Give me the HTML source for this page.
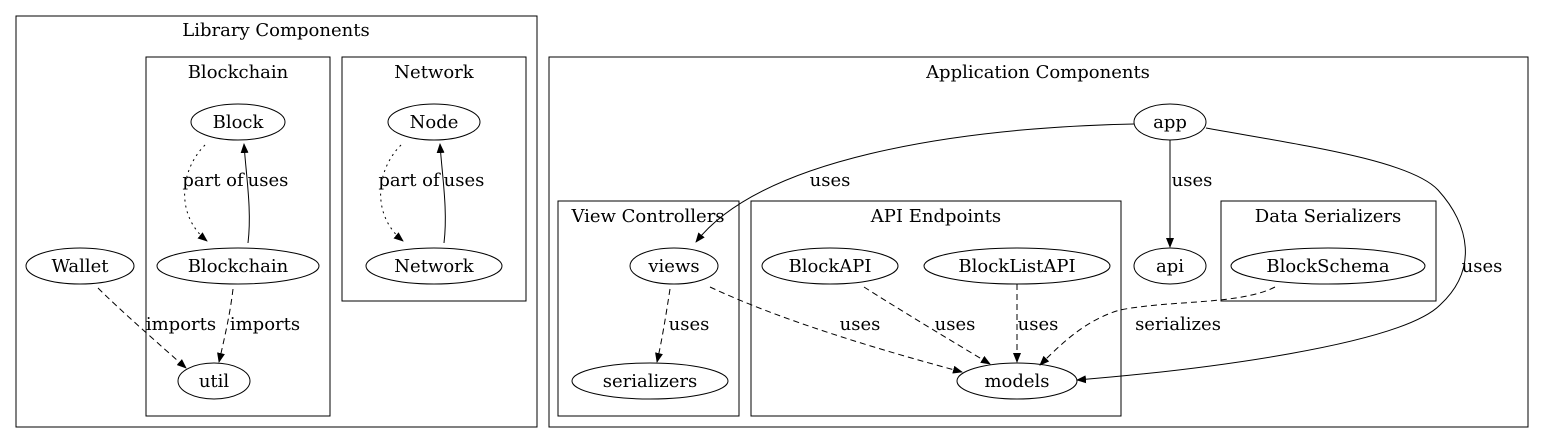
<!DOCTYPE html>
<html><head><meta charset="utf-8"><style>html,body{margin:0;padding:0;background:#fff}svg{display:block}text{font-family:"DejaVu Serif","Liberation Serif",serif;font-size:18px;fill:#000}</style></head><body>
<svg width="1544" height="444" viewBox="0 0 1544 444" xmlns="http://www.w3.org/2000/svg">
<defs><marker id="a" markerWidth="10" markerHeight="8" refX="9" refY="4" orient="auto" markerUnits="userSpaceOnUse"><path d="M0,0 L10,4 L0,8 Z" fill="#000"/></marker></defs>
<g fill="none" stroke="#000" stroke-width="1">
<rect x="16" y="16" width="521" height="411"/>
<rect x="146" y="57" width="184" height="359"/>
<rect x="342" y="57" width="184" height="244"/>
<rect x="549" y="57" width="979" height="370"/>
<rect x="558" y="201" width="181" height="215"/>
<rect x="751" y="201" width="370" height="215"/>
<rect x="1221" y="201" width="215" height="100"/>
<ellipse cx="238" cy="122" rx="47" ry="18"/>
<ellipse cx="238" cy="266" rx="81" ry="18"/>
<ellipse cx="214" cy="381" rx="36" ry="18"/>
<ellipse cx="80" cy="266" rx="54" ry="18"/>
<ellipse cx="434" cy="122" rx="46" ry="18"/>
<ellipse cx="434" cy="266" rx="68" ry="18"/>
<ellipse cx="1170" cy="122" rx="36" ry="18"/>
<ellipse cx="1170" cy="266" rx="36" ry="18"/>
<ellipse cx="674" cy="266" rx="44" ry="18"/>
<ellipse cx="650" cy="381" rx="78" ry="18"/>
<ellipse cx="830" cy="266" rx="68" ry="18"/>
<ellipse cx="1017" cy="266" rx="93" ry="18"/>
<ellipse cx="1017" cy="381" rx="60" ry="18"/>
<ellipse cx="1328" cy="266" rx="97" ry="18"/>
<path d="M205,145 C180,170 175,215 207,241" stroke-dasharray="2,4" marker-end="url(#a)"/>
<path d="M248,243 C252,210 246,175 244,144" marker-end="url(#a)"/>
<path d="M401,145 C376,170 371,215 403,241" stroke-dasharray="2,4" marker-end="url(#a)"/>
<path d="M444,243 C448,210 442,175 440,144" marker-end="url(#a)"/>
<path d="M98,288 C120,310 160,345 186,368" stroke-dasharray="6,4" marker-end="url(#a)"/>
<path d="M233,289 C230,315 224,340 219,362" stroke-dasharray="6,4" marker-end="url(#a)"/>
<path d="M1134,124 C950,128 760,160 696,242" marker-end="url(#a)"/>
<path d="M1170,140 L1170,247" marker-end="url(#a)"/>
<path d="M1206,128 C1300,145 1410,160 1438,190 C1470,225 1478,270 1440,305 C1400,345 1200,370 1077,380" marker-end="url(#a)"/>
<path d="M670,289 C666,315 662,340 657,362" stroke-dasharray="6,4" marker-end="url(#a)"/>
<path d="M710,287 C780,320 880,350 962,372" stroke-dasharray="6,4" marker-end="url(#a)"/>
<path d="M864,287 C900,310 950,340 990,364" stroke-dasharray="6,4" marker-end="url(#a)"/>
<path d="M1017,284 L1017,362" stroke-dasharray="6,4" marker-end="url(#a)"/>
<path d="M1275,287 C1240,305 1170,300 1120,310 C1085,320 1060,345 1040,365" stroke-dasharray="6,4" marker-end="url(#a)"/>
</g>
<g text-anchor="middle">
<text x="276" y="36">Library Components</text>
<text x="238" y="78">Blockchain</text>
<text x="434" y="78">Network</text>
<text x="1038" y="78">Application Components</text>
<text x="648" y="222">View Controllers</text>
<text x="936" y="222">API Endpoints</text>
<text x="1328" y="222">Data Serializers</text>
<text x="238" y="128">Block</text>
<text x="238" y="272">Blockchain</text>
<text x="214" y="387">util</text>
<text x="80" y="272">Wallet</text>
<text x="434" y="128">Node</text>
<text x="434" y="272">Network</text>
<text x="1170" y="128">app</text>
<text x="1170" y="272">api</text>
<text x="674" y="272">views</text>
<text x="650" y="387">serializers</text>
<text x="830" y="272">BlockAPI</text>
<text x="1017" y="272">BlockListAPI</text>
<text x="1017" y="387">models</text>
<text x="1328" y="272">BlockSchema</text>
<text x="213" y="186">part of</text>
<text x="268" y="186">uses</text>
<text x="409" y="186">part of</text>
<text x="464" y="186">uses</text>
<text x="181" y="330">imports</text>
<text x="265" y="330">imports</text>
<text x="830" y="186">uses</text>
<text x="1192" y="186">uses</text>
<text x="1482" y="272">uses</text>
<text x="689" y="330">uses</text>
<text x="860" y="330">uses</text>
<text x="955" y="330">uses</text>
<text x="1038" y="330">uses</text>
<text x="1178" y="330">serializes</text>
</g>
</svg>
</body></html>
